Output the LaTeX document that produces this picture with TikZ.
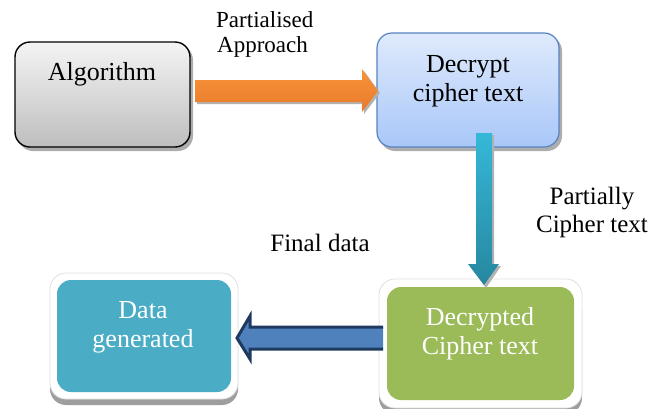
\documentclass[tikz,border=0pt]{standalone}
\usepackage{fontspec}
\setmainfont{Liberation Serif}
\newfontfamily\boxfont{Liberation Serif}
\usetikzlibrary{calc}
\definecolor{algtop}{HTML}{F4F4F4}
\definecolor{algbot}{HTML}{BEBEBE}
\definecolor{dectop}{HTML}{DFEAFC}
\definecolor{decbot}{HTML}{A9C7F9}
\definecolor{decedge}{HTML}{5683C0}
\definecolor{orangetop}{HTML}{F8953A}
\definecolor{orangebot}{HTML}{E8792A}
\definecolor{tealtop}{HTML}{35B8D8}
\definecolor{tealbot}{HTML}{27879F}
\definecolor{greenbox}{HTML}{9BBB59}
\definecolor{tealbox}{HTML}{4BACC6}
\definecolor{navyfill}{HTML}{4F81BD}
\definecolor{navyedge}{HTML}{1F3A60}
\tikzset{
  txt/.style={font=\boxfont\fontsize{26}{29}\selectfont, align=center, inner sep=0pt},
  lbl/.style={font=\boxfont\fontsize{23}{27}\selectfont, inner sep=0pt},
  lblbig/.style={font=\boxfont\fontsize{25}{28}\selectfont, inner sep=0pt, align=center},
  boxshadow/.style={fill=black!32, rounded corners=15pt},
  frame/.style={fill=white, draw=black!12, line width=0.8pt, rounded corners=16pt},
}
\begin{document}
\begin{tikzpicture}[x=1pt,y=-1pt]
\useasboundingbox (0,0) rectangle (666,408);

% Algorithm box
\fill[boxshadow] (18,45) rectangle (193,151);
\draw[rounded corners=15pt, line width=1.4pt, top color=algtop, bottom color=algbot]
  (15,42) rectangle (190,147);
\node[txt] (alg) at (102,74) {Algorithm};

% Decrypt cipher text box
\fill[boxshadow] (380,36) rectangle (562,151);
\draw[rounded corners=15pt, line width=1.2pt, draw=decedge, top color=dectop, bottom color=decbot]
  (377,33) rectangle (559,147);
\node[txt] (dec) at (468,81) {Decrypt\\cipher text};

% Decrypted cipher text box
\fill[black!38, rounded corners=16pt] (379,292) rectangle (582,414);
\fill[frame] (379,279) rectangle (582,408);
\fill[greenbox, rounded corners=14pt] (387,287) rectangle (574,400);
\node[txt, text=white] (dct) at (480,334) {Decrypted\\Cipher text};

% Data generated box
\fill[black!38, rounded corners=16pt] (50,285) rectangle (238,405);
\fill[frame] (50,273) rectangle (238,399);
\fill[tealbox, rounded corners=14pt] (57,280) rectangle (231,392);
\node[txt, text=white] (gen) at (143,327) {Data\\generated};

% Orange arrow: Algorithm -> Decrypt
\coordinate (oa) at (195,91);
\coordinate (ob) at (378,91);
\fill[black!30] ($(oa)+(2,-9)$) -- ($(ob)+(-14,-9)$) -- ($(ob)+(-14,-20)$) -- ($(ob)+(2,2)$)
  -- ($(ob)+(-14,23)$) -- ($(ob)+(-14,13)$) -- ($(oa)+(2,13)$) -- cycle;
\shade[top color=orangetop, bottom color=orangebot]
  ($(oa)+(0,-11)$) -- ($(ob)+(-16,-11)$) -- ($(ob)+(-16,-22)$) -- (ob)
  -- ($(ob)+(-16,21)$) -- ($(ob)+(-16,11)$) -- ($(oa)+(0,11)$) -- cycle;

% Teal arrow: Decrypt -> Decrypted
\coordinate (ta) at (484,133);
\coordinate (tb) at (484,285);
\fill[black!30] ($(ta)+(10,2)$) -- ($(tb)+(10,-19)$) -- ($(tb)+(17,-19)$) -- ($(tb)+(2,3)$)
  -- ($(tb)+(-14,-19)$) -- ($(tb)+(-6,-19)$) -- ($(ta)+(-6,2)$) -- cycle;
\shade[top color=tealtop, bottom color=tealbot]
  ($(ta)+(8,0)$) -- ($(tb)+(8,-21)$) -- ($(tb)+(15,-21)$) -- (tb)
  -- ($(tb)+(-16,-21)$) -- ($(tb)+(-8,-21)$) -- ($(ta)+(-8,0)$) -- cycle;

% Navy arrow: Decrypted -> Data generated
\coordinate (na) at (383,338);
\coordinate (nb) at (237,338);
\draw[line width=3pt, draw=navyedge, fill=navyfill, line join=miter]
  ($(na)+(0,-11)$) -- ($(nb)+(13,-11)$) -- ($(nb)+(13,-22)$) -- (nb)
  -- ($(nb)+(13,21)$) -- ($(nb)+(13,11)$) -- ($(na)+(0,11)$);

% Labels
\node[lbl, anchor=west] (l1) at (216,20) {Partialised};
\node[lbl, anchor=west] (l2) at (217,47) {Approach};
\node[lblbig] (l3) at (592,212) {Partially\\Cipher text};
\node[lblbig] (l4) at (320,243) {Final data};
\end{tikzpicture}
\end{document}
